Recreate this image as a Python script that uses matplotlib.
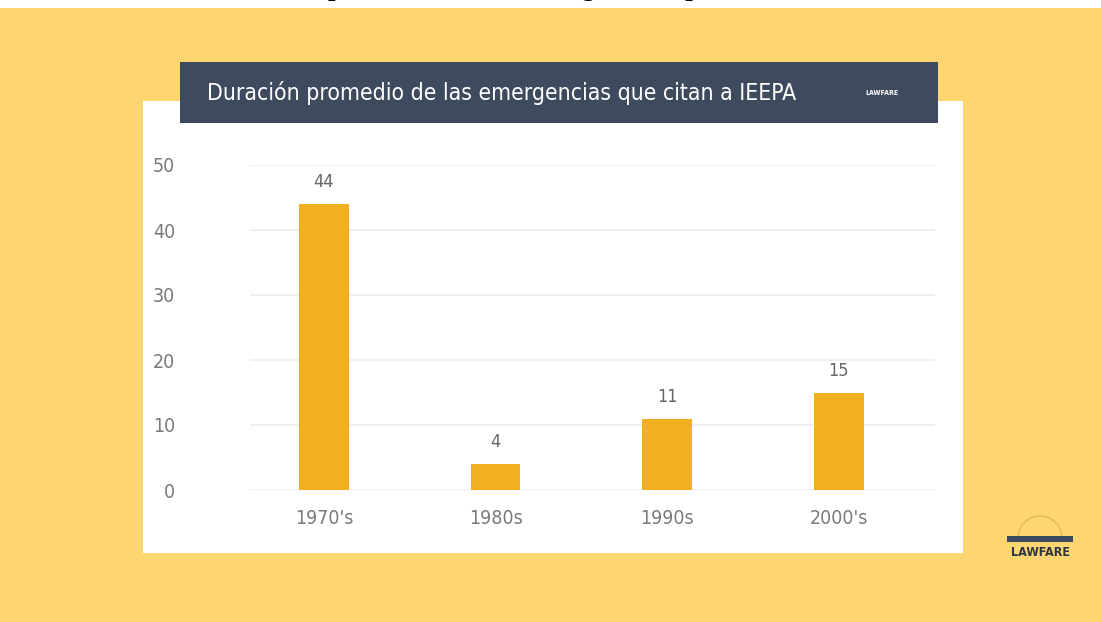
import matplotlib.pyplot as plt
from matplotlib.patches import Rectangle, Arc

decades = ["1970's", "1980s", "1990s", "2000's"]
duration = [44, 4, 11, 15]
yticks = [0, 10, 20, 30, 40, 50]

title = "Duración promedio de las emergencias que citan a IEEPA"

W, H = 1101, 622
fig = plt.figure(figsize=(W / 100, H / 100), dpi=100)
fig.patch.set_facecolor("#FDD672")

def px(x0, y0, x1, y1):
    # pixel box -> figure fraction rect
    return [x0 / W, 1 - y1 / H, (x1 - x0) / W, (y1 - y0) / H]

# white strip on top with clipped caption (cut off in the original too)
fig.patches.append(Rectangle((0, 1 - 8 / H), 1, 8 / H, transform=fig.transFigure,
                             facecolor="white", edgecolor="none", zorder=0))
fig.text(0.5, 1 - 1 / H, title, ha="center", va="bottom", family="DejaVu Serif",
         fontsize=15, fontweight="bold", color="black")

# white panel
b = px(143, 101, 963, 553)
fig.patches.append(Rectangle((b[0], b[1]), b[2], b[3], transform=fig.transFigure,
                             facecolor="white", edgecolor="none", zorder=0))
# header bar
h = px(180, 62, 938, 123)
fig.patches.append(Rectangle((h[0], h[1]), h[2], h[3], transform=fig.transFigure,
                             facecolor="#3E4A5E", edgecolor="none", zorder=1))
fig.text(207 / W, 1 - 93 / H, title, ha="left", va="center", color="white",
         family="DejaVu Sans", stretch="condensed", fontsize=16.5, zorder=2)
fig.text(882 / W, 1 - 93 / H, "LAWFARE", ha="center", va="center", color="white",
         family="DejaVu Sans", stretch="condensed", fontsize=5, fontweight="bold", zorder=2)

# bottom right logo
fig.patches.append(Arc((1040 / W, 1 - 538 / H), 44 / W, 44 / H, theta1=0, theta2=180,
                       transform=fig.transFigure, color="#E8B84A", linewidth=1))
fig.patches.append(Rectangle((1007 / W, 1 - 542 / H), 66 / W, 6 / H, transform=fig.transFigure,
                             facecolor="#3E4A5E", edgecolor="none"))
fig.text(1040 / W, 1 - 553 / H, "LAWFARE", ha="center", va="center", color="#2E3440",
         family="DejaVu Sans", stretch="condensed", fontsize=9, fontweight="bold")

ax = fig.add_axes(px(250, 165, 935, 490))
ax.set_zorder(5)
ax.set_facecolor("none")
x = list(range(len(decades)))
ax.bar(x, duration, width=0.29, color="#F0B021", zorder=3)
for xi, v in zip(x, duration):
    ax.text(xi, v + 2.0, str(v), ha="center", va="bottom", color="#666666",
            family="DejaVu Sans", stretch="condensed", fontsize=13)

ax.set_xlim(-0.43, 3.56)
ax.set_ylim(0, 50)
ax.set_yticks(yticks)
ax.grid(axis="y", color="#EBEBEB", linewidth=1.2, zorder=0)
ax.set_xticks(x)
ax.set_xticklabels(decades)
for s in ax.spines.values():
    s.set_visible(False)
ax.tick_params(length=0, colors="#888888", labelsize=14)
ax.tick_params(axis="y", pad=54)
ax.tick_params(axis="x", pad=14)
for lab in ax.get_xticklabels() + ax.get_yticklabels():
    lab.set_fontstretch("condensed")
    lab.set_color("#7A7A7A")

fig.savefig("out.png", dpi=100, facecolor=fig.get_facecolor())
